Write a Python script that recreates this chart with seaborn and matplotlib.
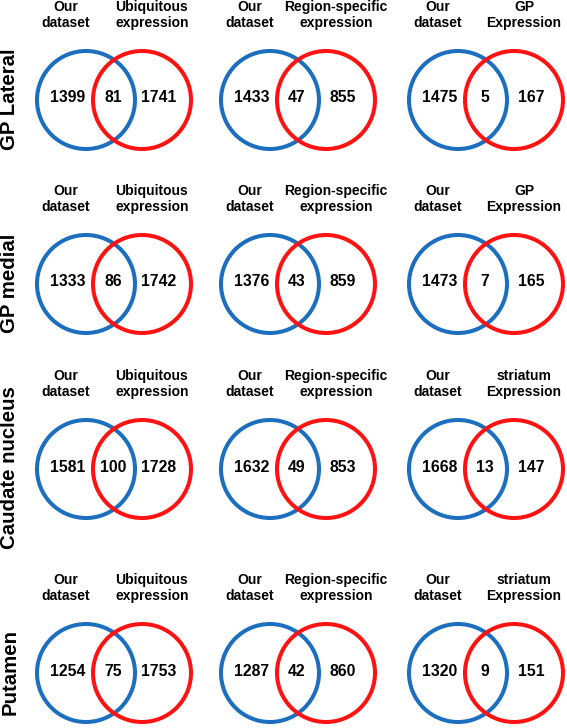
import matplotlib
matplotlib.use("Agg")
import matplotlib.pyplot as plt
from matplotlib.patches import Circle
import seaborn as sns

# Venn counts per brain region (rows) and reference set (columns)
regions = ["GP Lateral", "GP medial", "Caudate nucleus", "Putamen"]
left_title = "Our\ndataset"
right_titles = [
    ["Ubiquitous\nexpression", "Region-specific\nexpression", "GP\nExpression"],
    ["Ubiquitous\nexpression", "Region-specific\nexpression", "GP\nExpression"],
    ["Ubiquitous\nexpression", "Region-specific\nexpression", "striatum\nExpression"],
    ["Ubiquitous\nexpression", "Region-specific\nexpression", "striatum\nExpression"],
]
only_ours = [[1399, 1433, 1475], [1333, 1376, 1473], [1581, 1632, 1668], [1254, 1287, 1320]]
shared = [[81, 47, 5], [86, 43, 7], [100, 49, 13], [75, 42, 9]]
only_ref = [[1741, 855, 167], [1742, 859, 165], [1728, 853, 147], [1753, 860, 151]]

sns.set_theme(style="white")
plt.rcParams["font.family"] = ["Liberation Sans", "DejaVu Sans"]
plt.rcParams["text.color"] = "black"

blue = "#1b6fbe"
red = "#fe1212"

# layout in pixels
col_x = [86, 270, 458]      # blue circle centres
row_y = [100, 284, 469, 673]
offset = 56
radius = 49

fig = plt.figure(figsize=(5.67, 7.28), dpi=100)
ax = fig.add_axes([0, 0, 1, 1])
ax.set_xlim(0, 567)
ax.set_ylim(728, 0)
ax.set_aspect("equal")
ax.axis("off")

for i, region in enumerate(regions):
    cy = row_y[i]
    ax.text(10, cy - 1, region, rotation=90, ha="center", va="center",
            fontsize=14.7, fontweight="bold", color="black")
    for j in range(3):
        bx = col_x[j]
        rx = bx + offset
        ax.add_patch(Circle((bx, cy), radius, fill=False, ec=blue, lw=2.9))
        ax.add_patch(Circle((rx, cy), radius, fill=False, ec=red, lw=2.9))
        ax.text(bx - 20, cy - 85, left_title, ha="center", va="center",
                fontsize=10, fontweight="bold", linespacing=1.1, color="black")
        ax.text(rx + 10, cy - 85, right_titles[i][j], ha="center", va="center",
                fontsize=10, fontweight="bold", linespacing=1.1, color="black")
        ax.text(bx - 18, cy - 2, str(only_ours[i][j]), ha="center", va="center",
                fontsize=11.3, fontweight="bold", color="black")
        ax.text((bx + rx) / 2 - 1, cy - 2, str(shared[i][j]), ha="center", va="center",
                fontsize=11.3, fontweight="bold", color="black")
        ax.text(rx + 17, cy - 2, str(only_ref[i][j]), ha="center", va="center",
                fontsize=11.3, fontweight="bold", color="black")

fig.savefig("out.png", dpi=100)
